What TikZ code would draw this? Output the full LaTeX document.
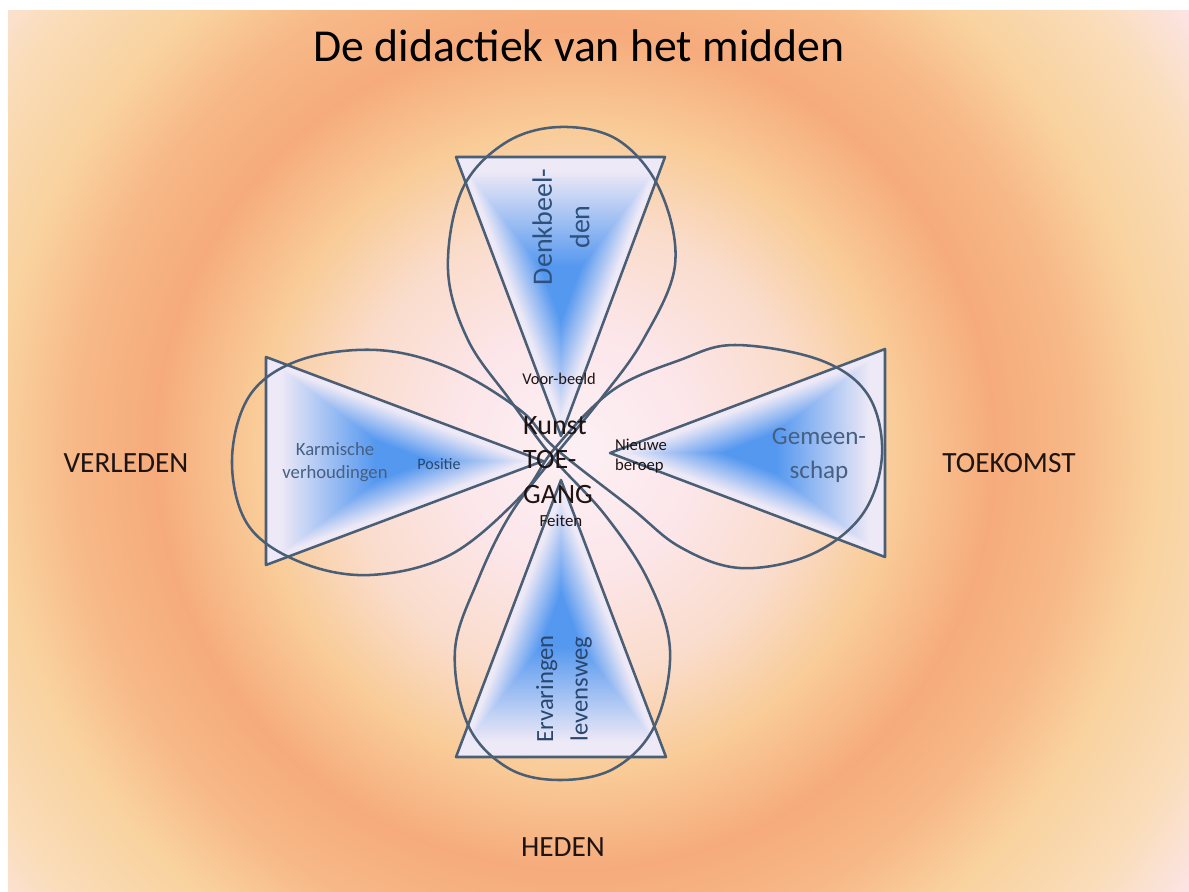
\documentclass[tikz,border=0pt]{standalone}
\usepackage{fontspec}
\setmainfont{Carlito}
\usetikzlibrary{calc}
\definecolor{bg0}{RGB}{252,240,244}
\definecolor{bg1}{RGB}{252,230,234}
\definecolor{bg2}{RGB}{250,220,203}
\definecolor{bg3}{RGB}{249,204,152}
\definecolor{bg4}{RGB}{246,171,124}
\definecolor{bg5}{RGB}{247,184,135}
\definecolor{bg6}{RGB}{249,210,158}
\definecolor{bg7}{RGB}{250,221,187}
\definecolor{bg8}{RGB}{252,229,232}
\definecolor{tblue}{RGB}{85,152,240}
\definecolor{tpale}{RGB}{238,233,246}
\definecolor{outl}{RGB}{74,94,117}
\definecolor{slate}{RGB}{70,95,130}
\definecolor{dslate}{RGB}{45,80,125}
\definecolor{navy}{RGB}{40,70,110}
\definecolor{ink}{RGB}{30,20,20}
\pgfdeclareradialshading{bgshade}{\pgfpoint{0bp}{0bp}}{color(0bp)=(bg0); color(3.75bp)=(bg1); color(7.2bp)=(bg2); color(10bp)=(bg3); color(13.1bp)=(bg4); color(15.6bp)=(bg5); color(18.1bp)=(bg6); color(21.25bp)=(bg7); color(23.75bp)=(bg8); color(50bp)=(bg8)}
\newcommand\gradtri[4]{%
  \foreach \i in {0,...,60}{%
    \pgfmathsetmacro\s{1-\i/60}%
    \pgfmathsetmacro\p{min(100,max(0,(0.9-\s)/0.7*100))}%
    \fill[tblue!\p!tpale] ($(#4)!\s!(#1)$) -- ($(#4)!\s!(#2)$) -- ($(#4)!\s!(#3)$) -- cycle;
  }%
}
\tikzset{
  shape line/.style={draw=outl, line width=1.9pt, line join=round},
  big label/.style={font=\fontsize{22}{26}\selectfont, text=ink, inner sep=0pt},
  small txt/.style={font=\fontsize{12.3}{15}\selectfont, text=ink, inner sep=0pt},
}
\begin{document}
\begin{tikzpicture}[x=0.75pt, y=-0.75pt]
\useasboundingbox (0,0) rectangle (1189,892);
\fill[white] (0,0) rectangle (1189,892);
\begin{scope}
  \clip (8,11) rectangle (1189,892);
  \shade[shading=bgshade] (575,450) circle (600pt);
\end{scope}
% triangles
\coordinate (tA) at (561,436); \coordinate (t1) at (456,157); \coordinate (t2) at (665,157); \coordinate (tc) at (561,293);
\coordinate (bA) at (561,480); \coordinate (b1) at (456,757); \coordinate (b2) at (666,757); \coordinate (bc) at (561,621);
\coordinate (lA) at (543,461); \coordinate (l1) at (266,357); \coordinate (l2) at (266,565); \coordinate (lc) at (402,461);
\coordinate (rA) at (610,453); \coordinate (r1) at (885,349); \coordinate (r2) at (885,557); \coordinate (rc) at (750,453);
\gradtri{tA}{t1}{t2}{tc}
\gradtri{bA}{b1}{b2}{bc}
\gradtri{lA}{l1}{l2}{lc}
\gradtri{rA}{r1}{r2}{rc}
\draw[shape line] (tA) -- (t1) -- (t2) -- cycle;
\draw[shape line] (bA) -- (b1) -- (b2) -- cycle;
\draw[shape line] (lA) -- (l1) -- (l2) -- cycle;
\draw[shape line] (rA) -- (r1) -- (r2) -- cycle;
% loops
\draw[shape line] plot[smooth cycle, tension=0.6] coordinates {
  (553,458) (510,400) (468,340) (448,270) (462,190) (505,143) (560,127) (618,140) (660,190) (675,265) (643,340) (600,400)
  (553,458) (510,515) (478,580) (455,650) (468,725) (508,768) (560,780) (615,768) (655,725) (670,650) (648,580) (605,515)};
\draw[shape line] plot[smooth cycle, tension=0.6] coordinates {
  (555,448) (520,410) (450,368) (377,350) (300,360) (250,395) (232,460) (248,525) (300,562) (370,575) (450,555) (520,497)
  (555,448) (613,390) (680,360) (735,345) (820,360) (868,395) (882,455) (862,515) (810,555) (740,568) (680,547) (630,507)};
% texts
\node[font=\fontsize{34.3}{40}\selectfont, text=black, inner sep=0pt] (title) at (579,46) {De didactiek van het midden};
\node[big label] (verleden) at (126,463) {VERLEDEN};
\node[big label] (toekomst) at (1009,463) {TOEKOMST};
\node[big label] (heden) at (563,847) {HEDEN};
\node[rotate=90, align=center, font=\fontsize{21}{28}\selectfont, text=dslate, inner sep=0pt] (denk) at (561,227) {Denkbeel-\\den};
\node[rotate=90, align=center, font=\fontsize{18.5}{26}\selectfont, text=navy, inner sep=0pt] (erv) at (564,689) {Ervaringen\\levensweg};
\node[align=center, font=\fontsize{14}{17}\selectfont, text=slate, inner sep=0pt] (karm) at (335,462) {Karmische\\verhoudingen};
\node[font=\fontsize{12}{15}\selectfont, text=navy, inner sep=0pt] (pos) at (439,464) {Positie};
\node[align=center, font=\fontsize{18.8}{25.5}\selectfont, text=slate, inner sep=0pt] (gem) at (819,455) {Gemeen-\\schap};
\node[align=left, font=\fontsize{12.5}{15}\selectfont, text=ink, inner sep=0pt] (nieuw) at (641,456) {Nieuwe\\beroep};
\node[small txt] (voor) at (559,379) {Voor-beeld};
\node[align=left, font=\fontsize{21}{26}\selectfont, text=ink, inner sep=0pt] (kunst) at (558,460) {Kunst\\TOE-\\GANG};
\node[small txt, font=\fontsize{12.7}{15}\selectfont] (feiten) at (561,521) {Feiten};
\end{tikzpicture}
\end{document}
